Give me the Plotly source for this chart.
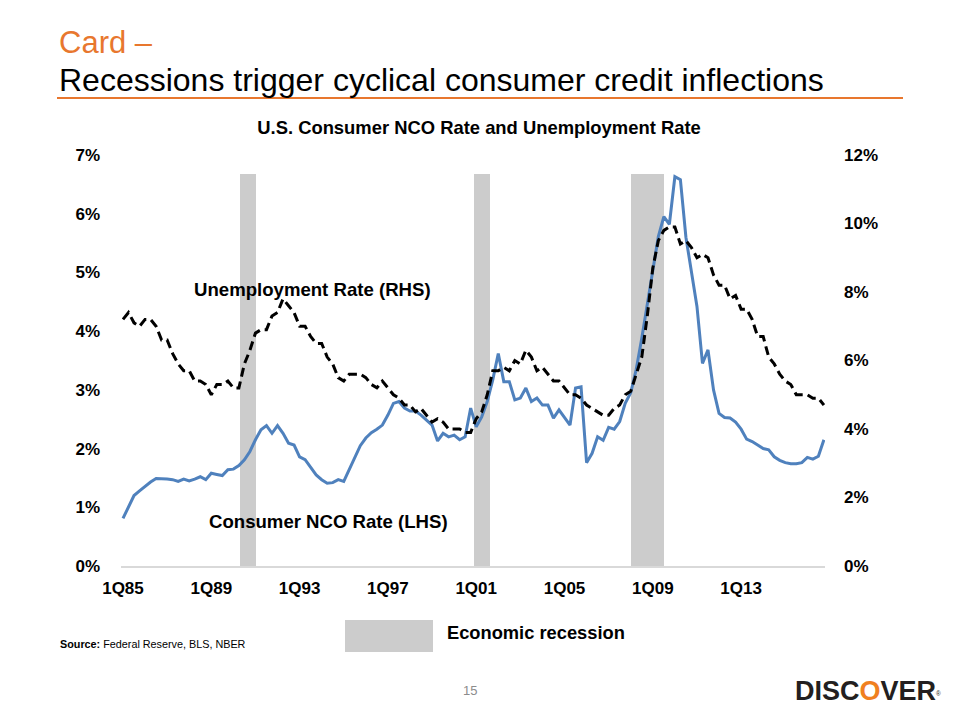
import plotly.graph_objects as go

# ---------------- data ----------------
years = list(range(1985, 2017))
quarters = [f"{q}Q{str(y)[2:]}" for y in years for q in range(1, 5)]

nco_rate = [
    0.81, 1.02, 1.20, 1.28, 1.36, 1.43, 1.49, 1.49, 1.48, 1.47, 1.44, 1.48,
    1.45, 1.48, 1.52, 1.47, 1.58, 1.56, 1.54, 1.64, 1.65, 1.71, 1.81, 1.95,
    2.15, 2.32, 2.39, 2.26, 2.39, 2.26, 2.09, 2.06, 1.86, 1.81, 1.69, 1.55,
    1.47, 1.41, 1.42, 1.47, 1.44, 1.65, 1.86, 2.05, 2.18, 2.27, 2.33, 2.40,
    2.57, 2.77, 2.80, 2.69, 2.64, 2.64, 2.57, 2.48, 2.40, 2.13, 2.26, 2.20,
    2.23, 2.15, 2.20, 2.69, 2.37, 2.54, 2.80, 3.17, 3.62, 3.14, 3.14, 2.83,
    2.86, 3.03, 2.80, 2.86, 2.74, 2.74, 2.52, 2.66, 2.52, 2.40, 3.03, 3.05,
    1.76, 1.92, 2.20, 2.14, 2.36, 2.33, 2.46, 2.77, 2.95, 3.35, 3.88, 4.47,
    5.10, 5.61, 5.95, 5.82, 6.63, 6.58, 5.60, 5.00, 4.42, 3.45, 3.68, 3.00,
    2.60, 2.53, 2.52, 2.45, 2.33, 2.16, 2.12, 2.06, 2.00, 1.98, 1.86, 1.80,
    1.76, 1.74, 1.74, 1.76, 1.85, 1.82, 1.87, 2.15,
]

unemployment_rate = [
    7.2, 7.4, 7.1, 7.0, 7.2, 7.2, 7.0, 6.6, 6.6, 6.2, 5.9, 5.7,
    5.7, 5.4, 5.4, 5.3, 5.0, 5.3, 5.3, 5.4, 5.2, 5.2, 5.9, 6.3,
    6.8, 6.9, 6.9, 7.3, 7.4, 7.8, 7.6, 7.4, 7.0, 7.0, 6.7, 6.5,
    6.5, 6.1, 5.9, 5.5, 5.4, 5.6, 5.6, 5.6, 5.5, 5.3, 5.2, 5.4,
    5.2, 5.0, 4.9, 4.7, 4.7, 4.5, 4.6, 4.4, 4.2, 4.3, 4.2, 4.0,
    4.0, 4.0, 3.9, 3.9, 4.3, 4.5, 5.0, 5.7, 5.7, 5.8, 5.7, 6.0,
    5.9, 6.3, 6.1, 5.7, 5.8, 5.6, 5.4, 5.4, 5.2, 5.0, 5.0, 4.9,
    4.7, 4.6, 4.5, 4.4, 4.4, 4.6, 4.7, 5.0, 5.1, 5.6, 6.1, 7.3,
    8.7, 9.5, 9.8, 9.9, 9.9, 9.4, 9.5, 9.3, 9.0, 9.1, 9.0, 8.5,
    8.2, 8.2, 7.8, 7.9, 7.5, 7.5, 7.2, 6.7, 6.7, 6.1, 5.9, 5.6,
    5.4, 5.3, 5.0, 5.0, 5.0, 4.9, 4.9, 4.7,
]

# recession periods (in fractional years)
recession_start = [1990.31, 2000.90, 2008.00]
recession_end = [1991.03, 2001.63, 2009.50]
recession_height = 6.68

tick_labels = ["1Q85", "1Q89", "1Q93", "1Q97", "1Q01", "1Q05", "1Q09", "1Q13"]
tick_years = [1985, 1989, 1993, 1997, 2001, 2005, 2009, 2013]

x_years = [1985 + i / 4 for i in range(len(quarters))]

# ---------------- layout helpers ----------------
# page body has an 8px margin, so the figure is drawn offset by (8, 8)
OFF = 8
SW, SH = 960, 720            # screen size
W, H = SW - OFF, SH - OFF    # figure size
L, R, T, B = 121, 825, 155, 566   # plot area in screen pixels


def ax(px):
    return (px - L) / (R - L)


def ay(py):
    return (B - py) / (B - T)


FONT = "Liberation Sans, Arial, sans-serif"
ORANGE = "#E8772E"
GRAY = "#CCCCCC"

fig = go.Figure()

fig.add_trace(go.Bar(
    x=[(s + e) / 2 for s, e in zip(recession_start, recession_end)],
    y=[recession_height] * len(recession_start),
    width=[e - s for s, e in zip(recession_start, recession_end)],
    marker=dict(color=GRAY, line=dict(width=0)),
    yaxis="y", hoverinfo="skip", name="Economic recession",
))

fig.add_trace(go.Scatter(
    x=x_years, y=nco_rate, mode="lines", name="Consumer NCO Rate (LHS)",
    text=quarters, line=dict(color="#4F81BD", width=3), yaxis="y",
))

fig.add_trace(go.Scatter(
    x=x_years, y=unemployment_rate, mode="lines", name="Unemployment Rate (RHS)",
    text=quarters, line=dict(color="black", width=3, dash="9px,5px"), yaxis="y2",
))

tickfont = dict(family=FONT, size=17, color="black", weight="bold")

fig.update_layout(
    width=W, height=H,
    margin=dict(l=L - OFF, r=SW - R, t=T - OFF, b=SH - B, pad=0),
    paper_bgcolor="white", plot_bgcolor="white",
    showlegend=False,
    font=dict(family=FONT, color="black"),
    title=dict(
        text="<b>U.S. Consumer NCO Rate and Unemployment Rate</b>",
        font=dict(family=FONT, size=18.4, color="black"),
        x=(479 - OFF) / W, xref="container", xanchor="center",
        y=1 - (128 - OFF) / H, yref="container", yanchor="middle",
    ),
    xaxis=dict(
        range=[1984.91, 2016.80], tickmode="array", tickvals=tick_years,
        ticktext=tick_labels, showgrid=False, zeroline=False,
        showline=True, linecolor="#D9D9D9", linewidth=1.5, ticks="",
        tickfont=tickfont, ticklabelstandoff=6,
    ),
    yaxis=dict(
        range=[0, 7], dtick=1, ticksuffix="%", showgrid=False, zeroline=False,
        showline=False, ticks="", tickfont=tickfont, ticklabelstandoff=20,
    ),
    yaxis2=dict(
        range=[0, 12], dtick=2, ticksuffix="%", overlaying="y", side="right",
        showgrid=False, zeroline=False, showline=False, ticks="",
        tickfont=tickfont, ticklabelstandoff=18,
    ),
    bargap=0,
)

annotations = [
    dict(text="Card \u2013", x=ax(57), y=ay(42), xanchor="left", yanchor="middle",
         font=dict(family=FONT, size=31, color=ORANGE)),
    dict(text="Recessions trigger cyclical consumer credit inflections",
         x=ax(57), y=ay(80), xanchor="left", yanchor="middle",
         font=dict(family=FONT, size=32, color="black")),
    dict(text="<b>Unemployment Rate (RHS)</b>", x=ax(312), y=ay(289),
         xanchor="center", yanchor="middle",
         font=dict(family=FONT, size=18.6, color="black")),
    dict(text="<b>Consumer NCO Rate (LHS)</b>", x=ax(328), y=ay(521),
         xanchor="center", yanchor="middle",
         font=dict(family=FONT, size=18.6, color="black")),
    dict(text="<b>Economic recession</b>", x=ax(445), y=ay(632),
         xanchor="left", yanchor="middle",
         font=dict(family=FONT, size=18.3, color="black")),
    dict(text="<b>Source:</b> Federal Reserve, BLS, NBER", x=ax(58), y=ay(644),
         xanchor="left", yanchor="middle",
         font=dict(family=FONT, size=10.8, color="black")),
    dict(text="15", x=ax(470), y=ay(690), xanchor="center", yanchor="middle",
         font=dict(family=FONT, size=13, color="#8C8C8C")),
    dict(text="<b>DISC<span style='color:#F0801F'>O</span>VER</b>"
              "<span style='font-size:9px'><sup>®</sup></span>",
         x=ax(868), y=ay(691), xanchor="center", yanchor="middle",
         font=dict(family=FONT, size=27, color="#231F20")),
]
for a in annotations:
    a.update(xref="paper", yref="paper", showarrow=False)
fig.update_layout(annotations=annotations)

fig.update_layout(shapes=[
    dict(type="line", xref="paper", yref="paper", x0=ax(57), x1=ax(903),
         y0=ay(98), y1=ay(98), line=dict(color=ORANGE, width=2)),
    dict(type="rect", xref="paper", yref="paper", x0=ax(345), x1=ax(433),
         y0=ay(652), y1=ay(620), fillcolor=GRAY, line=dict(width=0)),
])

fig.write_html("out.html")
